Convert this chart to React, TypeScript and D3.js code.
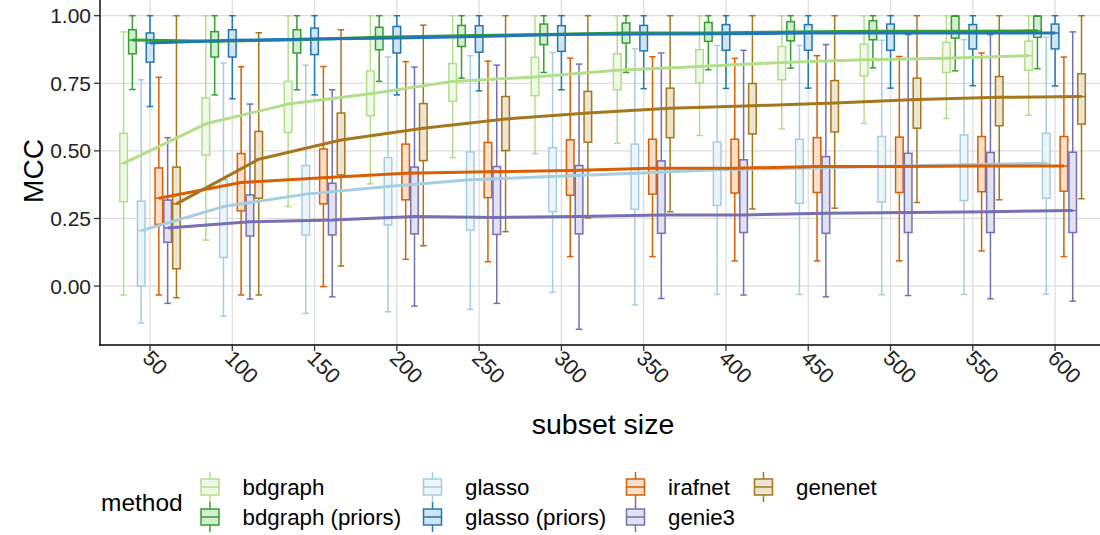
import React from 'react';
import * as d3 from 'd3';

const sizes = [50, 100, 150, 200, 250, 300, 350, 400, 450, 500, 550, 600];
const methods = ['bdgraph', 'bdgraph (priors)', 'glasso', 'glasso (priors)', 'irafnet', 'genie3', 'genenet'];
const colors = ['#B2DF8A', '#33A02C', '#A6CEE3', '#1F78B4', '#D95F02', '#7570B3', '#A6761D'];
const yTicks = [0, 0.25, 0.5, 0.75, 1];

// rows follow the methods order, columns follow sizes
const whiskerMax = [
  [0.94, 1, 1, 1, 1, 1, 1, 1, 1, 1, 1, 1],
  [1, 1, 1, 1, 1, 1, 1, 1, 1, 1, 1, 1],
  [0.763, 0.825, 0.817, 0.847, 0.852, 0.864, 0.877, 0.89, 0.89, 0.909, 0.911, 0.92],
  [1, 1, 1, 1, 1, 1, 1, 1, 1, 1, 1, 1],
  [0.772, 0.811, 0.812, 0.83, 0.832, 0.843, 0.848, 0.842, 0.852, 0.849, 0.862, 0.847],
  [0.549, 0.673, 0.726, 0.81, 0.817, 0.821, 0.862, 0.872, 0.893, 0.93, 0.93, 0.94],
  [1, 0.937, 0.948, 0.965, 1, 1, 1, 1, 1, 1, 1, 1],
];
const boxUpper = [
  [0.565, 0.696, 0.757, 0.796, 0.823, 0.846, 0.859, 0.874, 0.886, 0.895, 0.901, 0.906],
  [0.948, 0.941, 0.948, 0.957, 0.964, 0.969, 0.973, 0.975, 0.978, 0.981, 0.998, 0.998],
  [0.314, 0.393, 0.446, 0.475, 0.496, 0.512, 0.525, 0.533, 0.543, 0.553, 0.559, 0.565],
  [0.936, 0.948, 0.954, 0.96, 0.963, 0.963, 0.964, 0.967, 0.967, 0.969, 0.967, 0.969],
  [0.437, 0.49, 0.507, 0.525, 0.531, 0.541, 0.543, 0.543, 0.549, 0.551, 0.553, 0.553],
  [0.318, 0.337, 0.38, 0.44, 0.442, 0.446, 0.463, 0.467, 0.479, 0.491, 0.494, 0.495],
  [0.44, 0.572, 0.64, 0.675, 0.701, 0.72, 0.732, 0.749, 0.76, 0.769, 0.775, 0.785],
];
const medianVal = [
  [0.454, 0.6, 0.673, 0.711, 0.757, 0.773, 0.798, 0.812, 0.827, 0.837, 0.843, 0.852],
  [0.91, 0.905, 0.911, 0.92, 0.926, 0.93, 0.936, 0.936, 0.94, 0.942, 0.942, 0.944],
  [0.205, 0.294, 0.34, 0.368, 0.393, 0.405, 0.417, 0.43, 0.436, 0.442, 0.449, 0.454],
  [0.899, 0.909, 0.914, 0.917, 0.923, 0.93, 0.932, 0.933, 0.936, 0.936, 0.936, 0.936],
  [0.325, 0.383, 0.401, 0.417, 0.423, 0.427, 0.436, 0.436, 0.442, 0.442, 0.444, 0.444],
  [0.215, 0.238, 0.244, 0.257, 0.254, 0.257, 0.263, 0.263, 0.269, 0.272, 0.275, 0.279],
  [0.304, 0.469, 0.54, 0.584, 0.618, 0.64, 0.658, 0.667, 0.677, 0.69, 0.698, 0.701],
];
const boxLower = [
  [0.312, 0.484, 0.568, 0.63, 0.683, 0.704, 0.726, 0.751, 0.763, 0.777, 0.79, 0.798],
  [0.859, 0.847, 0.862, 0.874, 0.886, 0.893, 0.899, 0.905, 0.907, 0.911, 0.917, 0.92],
  [0.0, 0.106, 0.189, 0.226, 0.207, 0.275, 0.284, 0.298, 0.306, 0.311, 0.316, 0.325],
  [0.828, 0.847, 0.856, 0.862, 0.865, 0.868, 0.87, 0.872, 0.872, 0.872, 0.877, 0.877],
  [0.228, 0.278, 0.304, 0.319, 0.327, 0.336, 0.34, 0.344, 0.346, 0.346, 0.349, 0.351],
  [0.162, 0.185, 0.189, 0.193, 0.191, 0.193, 0.195, 0.198, 0.195, 0.198, 0.198, 0.198],
  [0.064, 0.325, 0.411, 0.464, 0.501, 0.532, 0.549, 0.563, 0.57, 0.584, 0.593, 0.599],
];
const whiskerMin = [
  [-0.033, 0.17, 0.294, 0.378, 0.475, 0.49, 0.528, 0.557, 0.581, 0.602, 0.62, 0.632],
  [0.727, 0.707, 0.726, 0.757, 0.769, 0.79, 0.79, 0.8, 0.806, 0.807, 0.796, 0.804],
  [-0.136, -0.111, -0.101, -0.095, -0.086, -0.023, -0.07, -0.031, -0.031, -0.032, -0.031, -0.03],
  [0.664, 0.693, 0.707, 0.707, 0.722, 0.726, 0.73, 0.731, 0.732, 0.732, 0.741, 0.74],
  [-0.033, -0.033, -0.002, 0.099, 0.09, 0.109, 0.109, 0.093, 0.093, 0.093, 0.13, 0.109],
  [-0.064, -0.048, -0.04, -0.074, -0.064, -0.16, -0.046, -0.033, -0.04, -0.035, -0.047, -0.056],
  [-0.043, -0.033, 0.074, 0.149, 0.201, 0.252, 0.275, 0.285, 0.288, 0.309, 0.319, 0.323],
];

const font = '"Liberation Sans", Arial, Helvetica, sans-serif';

export default function App() {
  const width = 1100;
  const height = 535;
  const margin = { top: 0, right: 0, bottom: 190, left: 100 };
  const plotBottom = height - margin.bottom;

  const x = d3.scaleLinear().domain([19.6, 627.3]).range([margin.left, width - margin.right]);
  const y = d3.scaleLinear().domain([-0.218, 1.058]).range([plotBottom, margin.top]);

  // dodge: total width 0.75 * 50 split between methods
  const dodge = 37.5;
  const slot = dodge / methods.length;
  const offset = (m: number) => -dodge / 2 + slot * (m + 0.5);
  const boxW = (x(slot) - x(0)) * 0.86;
  const capW = boxW * 0.85;

  const line = d3.line<number>().y(d => y(d));

  const legendText = [242.5, 465, 668, 796];
  const legendRows = [487, 517];

  return (
    <svg width={width} height={height} style={{ position: 'fixed', left: 0, top: 0, background: '#fff' }}
      fontFamily={font}>
      <rect width={width} height={height} fill="#fff" />
      <g>
        {yTicks.map(t => (
          <line key={`gy${t}`} x1={margin.left} x2={width} y1={y(t)} y2={y(t)} stroke="#DEDEDE" strokeWidth={1.3} />
        ))}
        {sizes.map(s => (
          <line key={`gx${s}`} x1={x(s)} x2={x(s)} y1={margin.top} y2={plotBottom} stroke="#DEDEDE" strokeWidth={1.3} />
        ))}
      </g>
      {methods.map((m, mi) => (
        <g key={m}>
          {sizes.map((s, si) => {
            const cx = x(s + offset(mi));
            return (
              <g key={s}>
                <line x1={cx} x2={cx} y1={y(whiskerMax[mi][si])} y2={y(whiskerMin[mi][si])} stroke={colors[mi]} strokeWidth={1.5} />
                <line x1={cx - capW / 2} x2={cx + capW / 2} y1={y(whiskerMax[mi][si])} y2={y(whiskerMax[mi][si])} stroke={colors[mi]} strokeWidth={1.5} />
                <line x1={cx - capW / 2} x2={cx + capW / 2} y1={y(whiskerMin[mi][si])} y2={y(whiskerMin[mi][si])} stroke={colors[mi]} strokeWidth={1.5} />
                <rect x={cx - boxW / 2} width={boxW} y={y(boxUpper[mi][si])}
                  height={y(boxLower[mi][si]) - y(boxUpper[mi][si])}
                  fill="#fff" stroke="none" />
                <rect x={cx - boxW / 2} width={boxW} y={y(boxUpper[mi][si])}
                  height={y(boxLower[mi][si]) - y(boxUpper[mi][si])}
                  fill={colors[mi]} fillOpacity={0.2} stroke={colors[mi]} strokeWidth={1.5} />
                <line x1={cx - boxW / 2} x2={cx + boxW / 2} y1={y(medianVal[mi][si])} y2={y(medianVal[mi][si])} stroke={colors[mi]} strokeWidth={1.5} />
              </g>
            );
          })}
        </g>
      ))}
      {methods.map((m, mi) => (
        <path key={`l${m}`} d={line.x((_, i) => x(sizes[i] + offset(mi)))(medianVal[mi]) || ''}
          fill="none" stroke={colors[mi]} strokeWidth={3} strokeLinejoin="round" />
      ))}
      {/* axes */}
      <line x1={margin.left} x2={margin.left} y1={margin.top} y2={plotBottom + 0.7} stroke="#000" strokeWidth={1.4} />
      <line x1={margin.left - 0.7} x2={width} y1={plotBottom} y2={plotBottom} stroke="#000" strokeWidth={1.4} />
      {yTicks.map(t => (
        <g key={`ty${t}`}>
          <line x1={margin.left - 6} x2={margin.left} y1={y(t)} y2={y(t)} stroke="#333" strokeWidth={1.3} />
          <text x={margin.left - 9} y={y(t)} dy="0.36em" textAnchor="end" fontSize={21} fill="#222">
            {d3.format('.2f')(t)}
          </text>
        </g>
      ))}
      {sizes.map(s => (
        <g key={`tx${s}`}>
          <line x1={x(s)} x2={x(s)} y1={plotBottom} y2={plotBottom + 6} stroke="#333" strokeWidth={1.3} />
          <text transform={`translate(${x(s) - 3},${plotBottom + 9}) rotate(45)`} dy="0.36em" textAnchor="start"
            fontSize={21.5} fill="#222">{s}</text>
        </g>
      ))}
      <text x={603} y={434} textAnchor="middle" fontSize={28.5} fill="#000">subset size</text>
      <text transform={`translate(33,171) rotate(-90)`} y={0} dy="0.36em" textAnchor="middle" fontSize={28} fill="#000">MCC</text>
      {/* legend */}
      <text x={101} y={502} dy="0.35em" fontSize={24.5} fill="#000">method</text>
      {methods.map((m, mi) => {
        const colIdx = mi < 6 ? Math.floor(mi / 2) : 3;
        const rowIdx = mi < 6 ? mi % 2 : 0;
        const tx = legendText[colIdx];
        const cy = legendRows[rowIdx];
        const kx = tx - 32.5;
        return (
          <g key={`lg${m}`}>
            <line x1={kx} x2={kx} y1={cy - 15} y2={cy + 15} stroke={colors[mi]} strokeWidth={1.5} />
            <rect x={kx - 9} width={18} y={cy - 8} height={16} fill="#fff" stroke={colors[mi]} strokeWidth={1.5} />
            <rect x={kx - 9} width={18} y={cy - 8} height={16} fill={colors[mi]} fillOpacity={0.2} stroke="none" />
            <line x1={kx - 9} x2={kx + 9} y1={cy} y2={cy} stroke={colors[mi]} strokeWidth={1.5} />
            <text x={tx} y={cy} dy="0.35em" fontSize={22.3} fill="#000">{m}</text>
          </g>
        );
      })}
    </svg>
  );
}
